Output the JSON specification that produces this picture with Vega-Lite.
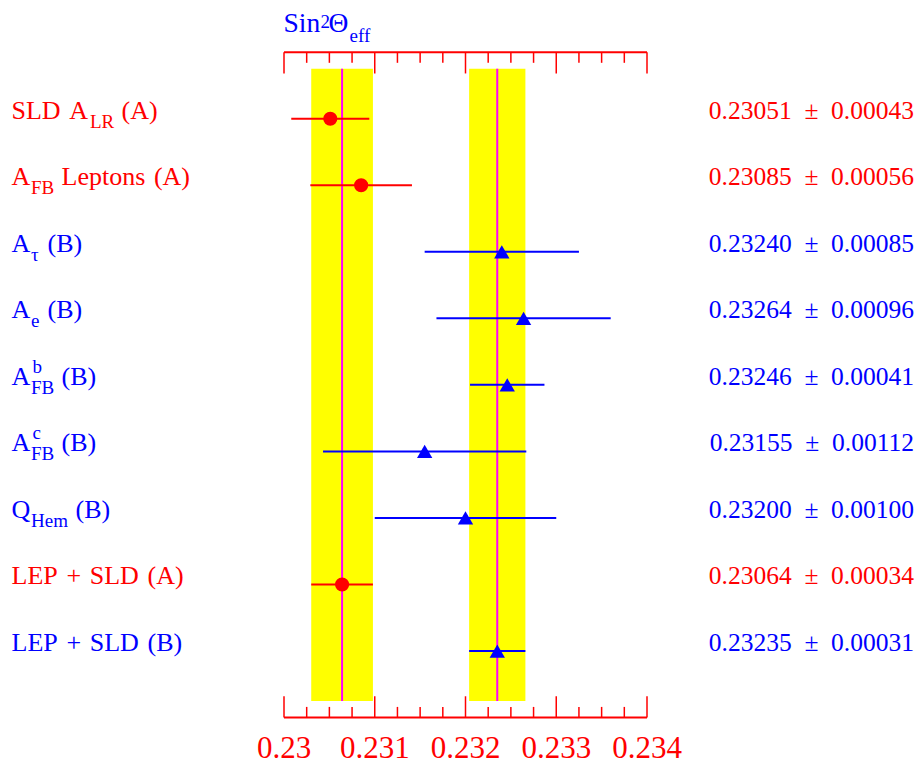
{
  "$schema": "https://vega.github.io/schema/vega-lite/v6.json",
  "width": 363,
  "height": 764,
  "autosize": {"type": "none"},
  "padding": {"left": 284, "right": 271, "top": 0, "bottom": 0},
  "background": "white",
  "config": {"view": {"stroke": null}, "axis": {"disable": true}, "mark": {"font": "Liberation Serif"}, "text": {"font": "Liberation Serif"}},
  "datasets": {
    "meas": [
      {"row": 1, "grp": "A", "pre": "SLD\u2004A", "sub": "LR", "sup": "", "post": "(A)", "value": 0.23051, "lo": 0.23008, "hi": 0.23094, "result": "0.23051\u2002±\u20020.00043", "combined": false},
      {"row": 2, "grp": "A", "pre": "A", "sub": "FB", "sup": "", "post": "Leptons\u2004(A)", "value": 0.23085, "lo": 0.23029, "hi": 0.23141, "result": "0.23085\u2002±\u20020.00056", "combined": false},
      {"row": 3, "grp": "B", "pre": "A", "sub": "τ", "sup": "", "post": "(B)", "value": 0.2324, "lo": 0.23155, "hi": 0.23325, "result": "0.23240\u2002±\u20020.00085", "combined": false},
      {"row": 4, "grp": "B", "pre": "A", "sub": "e", "sup": "", "post": "(B)", "value": 0.23264, "lo": 0.23168, "hi": 0.2336, "result": "0.23264\u2002±\u20020.00096", "combined": false},
      {"row": 5, "grp": "B", "pre": "A", "sub": "FB", "sup": "b", "post": "(B)", "value": 0.23246, "lo": 0.23205, "hi": 0.23287, "result": "0.23246\u2002±\u20020.00041", "combined": false},
      {"row": 6, "grp": "B", "pre": "A", "sub": "FB", "sup": "c", "post": "(B)", "value": 0.23155, "lo": 0.23043, "hi": 0.23267, "result": "0.23155\u2002±\u20020.00112", "combined": false},
      {"row": 7, "grp": "B", "pre": "Q", "sub": "Hem", "sup": "", "post": "(B)", "value": 0.232, "lo": 0.231, "hi": 0.233, "result": "0.23200\u2002±\u20020.00100", "combined": false},
      {"row": 8, "grp": "A", "pre": "LEP\u2004+\u2004SLD\u2004(A)", "sub": "", "sup": "", "post": "", "value": 0.23064, "lo": 0.2303, "hi": 0.23098, "result": "0.23064\u2002±\u20020.00034", "combined": true},
      {"row": 9, "grp": "B", "pre": "LEP\u2004+\u2004SLD\u2004(B)", "sub": "", "sup": "", "post": "", "value": 0.23235, "lo": 0.23204, "hi": 0.23266, "result": "0.23235\u2002±\u20020.00031", "combined": true}
    ],
    "ticks": [
      {"v": 0.23, "major": true, "label": "0.23"},
      {"v": 0.23025, "major": false, "label": ""},
      {"v": 0.2305, "major": false, "label": ""},
      {"v": 0.23075, "major": false, "label": ""},
      {"v": 0.231, "major": true, "label": "0.231"},
      {"v": 0.23125, "major": false, "label": ""},
      {"v": 0.2315, "major": false, "label": ""},
      {"v": 0.23175, "major": false, "label": ""},
      {"v": 0.232, "major": true, "label": "0.232"},
      {"v": 0.23225, "major": false, "label": ""},
      {"v": 0.2325, "major": false, "label": ""},
      {"v": 0.23275, "major": false, "label": ""},
      {"v": 0.233, "major": true, "label": "0.233"},
      {"v": 0.23325, "major": false, "label": ""},
      {"v": 0.2335, "major": false, "label": ""},
      {"v": 0.23375, "major": false, "label": ""},
      {"v": 0.234, "major": true, "label": "0.234"}
    ]
  },
  "layer": [
    {
      "data": {"name": "meas"},
      "transform": [{"filter": "datum.combined"}],
      "mark": {"type": "rect", "color": "#ffff00"},
      "encoding": {
        "x": {"field": "lo", "type": "quantitative", "scale": {"domain": [0.23, 0.234], "nice": false, "zero": false}, "axis": null},
        "x2": {"field": "hi"},
        "y": {"datum": 0.25, "type": "quantitative", "scale": {"domain": [-0.784, 10.698], "reverse": true, "nice": false, "zero": false}, "axis": null},
        "y2": {"datum": 9.75}
      }
    },
    {
      "data": {"name": "meas"},
      "transform": [{"filter": "datum.combined"}],
      "mark": {"type": "rule", "color": "#ff00ff", "strokeWidth": 2},
      "encoding": {
        "x": {"field": "value", "type": "quantitative", "axis": null},
        "y": {"datum": 0.25, "type": "quantitative", "axis": null},
        "y2": {"datum": 9.75}
      }
    },
    {
      "data": {"name": "meas"},
      "mark": {"type": "rule", "strokeWidth": 2},
      "encoding": {
        "x": {"field": "lo", "type": "quantitative", "axis": null},
        "x2": {"field": "hi"},
        "y": {"field": "row", "type": "quantitative", "axis": null},
        "color": {"field": "grp", "type": "nominal", "scale": {"domain": ["A", "B"], "range": ["#ff0000", "#0000ff"]}, "legend": null}
      }
    },
    {
      "data": {"name": "meas"},
      "transform": [{"filter": "datum.grp == 'A'"}],
      "mark": {"type": "point", "shape": "circle", "filled": true, "size": 200, "opacity": 1, "color": "#ff0000"},
      "encoding": {
        "x": {"field": "value", "type": "quantitative", "axis": null},
        "y": {"field": "row", "type": "quantitative", "axis": null}
      }
    },
    {
      "data": {"name": "meas"},
      "transform": [{"filter": "datum.grp == 'B'"}],
      "mark": {"type": "point", "shape": "triangle-up", "filled": true, "size": 235, "opacity": 1, "color": "#0000ff"},
      "encoding": {
        "x": {"field": "value", "type": "quantitative", "axis": null},
        "y": {"field": "row", "type": "quantitative", "axis": null}
      }
    },
    {
      "data": {"values": [{}]},
      "mark": {"type": "rule", "color": "#ff0000", "strokeWidth": 2},
      "encoding": {
        "x": {"datum": 0.23, "type": "quantitative", "axis": null},
        "x2": {"datum": 0.234},
        "y": {"datum": 0, "type": "quantitative", "axis": null}
      }
    },
    {
      "data": {"values": [{}]},
      "mark": {"type": "rule", "color": "#ff0000", "strokeWidth": 2},
      "encoding": {
        "x": {"datum": 0.23, "type": "quantitative", "axis": null},
        "x2": {"datum": 0.234},
        "y": {"datum": 10, "type": "quantitative", "axis": null}
      }
    },
    {
      "data": {"name": "ticks"},
      "transform": [{"filter": "datum.major"}],
      "mark": {"type": "rule", "color": "#ff0000", "strokeWidth": 1.5},
      "encoding": {
        "x": {"field": "v", "type": "quantitative", "axis": null},
        "y": {"datum": 0, "type": "quantitative", "axis": null},
        "y2": {"datum": 0.32}
      }
    },
    {
      "data": {"name": "ticks"},
      "transform": [{"filter": "!datum.major"}],
      "mark": {"type": "rule", "color": "#ff0000", "strokeWidth": 1.5},
      "encoding": {
        "x": {"field": "v", "type": "quantitative", "axis": null},
        "y": {"datum": 0, "type": "quantitative", "axis": null},
        "y2": {"datum": 0.16}
      }
    },
    {
      "data": {"name": "ticks"},
      "transform": [{"filter": "datum.major"}],
      "mark": {"type": "rule", "color": "#ff0000", "strokeWidth": 1.5},
      "encoding": {
        "x": {"field": "v", "type": "quantitative", "axis": null},
        "y": {"datum": 10, "type": "quantitative", "axis": null},
        "y2": {"datum": 9.68}
      }
    },
    {
      "data": {"name": "ticks"},
      "transform": [{"filter": "!datum.major"}],
      "mark": {"type": "rule", "color": "#ff0000", "strokeWidth": 1.5},
      "encoding": {
        "x": {"field": "v", "type": "quantitative", "axis": null},
        "y": {"datum": 10, "type": "quantitative", "axis": null},
        "y2": {"datum": 9.84}
      }
    },
    {
      "data": {"name": "ticks"},
      "transform": [{"filter": "datum.major"}],
      "mark": {"type": "text", "font": "Liberation Serif", "color": "#ff0000", "fontSize": 31, "align": "center", "baseline": "alphabetic"},
      "encoding": {
        "x": {"field": "v", "type": "quantitative", "axis": null},
        "y": {"datum": 10.608, "type": "quantitative", "axis": null},
        "text": {"field": "label"}
      }
    },
    {
      "data": {"name": "meas"},
      "mark": {"type": "text", "font": "Liberation Serif", "fontSize": 26, "align": "left", "baseline": "alphabetic", "dx": -272.5},
      "encoding": {
        "x": {"datum": 0.23, "type": "quantitative", "axis": null},
        "y": {"field": "row", "type": "quantitative", "axis": null},
        "text": {"field": "pre"},
        "color": {"field": "grp", "type": "nominal", "legend": null}
      }
    },
    {
      "data": {"name": "meas"},
      "transform": [{"filter": "datum.row == 1"}],
      "mark": {"type": "text", "font": "Liberation Serif", "fontSize": 19, "align": "left", "baseline": "alphabetic", "dx": -194, "dy": 9},
      "encoding": {
        "x": {"datum": 0.23, "type": "quantitative", "axis": null},
        "y": {"field": "row", "type": "quantitative", "axis": null},
        "text": {"field": "sub"},
        "color": {"field": "grp", "type": "nominal", "legend": null}
      }
    },
    {
      "data": {"name": "meas"},
      "transform": [{"filter": "datum.row >= 2 && datum.row <= 7"}],
      "mark": {"type": "text", "font": "Liberation Serif", "fontSize": 19, "align": "left", "baseline": "alphabetic", "dx": -253, "dy": 9},
      "encoding": {
        "x": {"datum": 0.23, "type": "quantitative", "axis": null},
        "y": {"field": "row", "type": "quantitative", "axis": null},
        "text": {"field": "sub"},
        "color": {"field": "grp", "type": "nominal", "legend": null}
      }
    },
    {
      "data": {"name": "meas"},
      "transform": [{"filter": "datum.sup != ''"}],
      "mark": {"type": "text", "font": "Liberation Serif", "fontSize": 19, "align": "left", "baseline": "alphabetic", "dx": -251.5, "dy": -12},
      "encoding": {
        "x": {"datum": 0.23, "type": "quantitative", "axis": null},
        "y": {"field": "row", "type": "quantitative", "axis": null},
        "text": {"field": "sup"},
        "color": {"field": "grp", "type": "nominal", "legend": null}
      }
    },
    {
      "data": {"name": "meas"},
      "transform": [{"filter": "datum.row == 1"}],
      "mark": {"type": "text", "font": "Liberation Serif", "fontSize": 26, "align": "left", "baseline": "alphabetic", "dx": -162.5},
      "encoding": {
        "x": {"datum": 0.23, "type": "quantitative", "axis": null},
        "y": {"field": "row", "type": "quantitative", "axis": null},
        "text": {"field": "post"},
        "color": {"field": "grp", "type": "nominal", "legend": null}
      }
    },
    {
      "data": {"name": "meas"},
      "transform": [{"filter": "datum.row == 2 || datum.row == 5 || datum.row == 6"}],
      "mark": {"type": "text", "font": "Liberation Serif", "fontSize": 26, "align": "left", "baseline": "alphabetic", "dx": -222.5},
      "encoding": {
        "x": {"datum": 0.23, "type": "quantitative", "axis": null},
        "y": {"field": "row", "type": "quantitative", "axis": null},
        "text": {"field": "post"},
        "color": {"field": "grp", "type": "nominal", "legend": null}
      }
    },
    {
      "data": {"name": "meas"},
      "transform": [{"filter": "datum.row == 3 || datum.row == 4"}],
      "mark": {"type": "text", "font": "Liberation Serif", "fontSize": 26, "align": "left", "baseline": "alphabetic", "dx": -236.5},
      "encoding": {
        "x": {"datum": 0.23, "type": "quantitative", "axis": null},
        "y": {"field": "row", "type": "quantitative", "axis": null},
        "text": {"field": "post"},
        "color": {"field": "grp", "type": "nominal", "legend": null}
      }
    },
    {
      "data": {"name": "meas"},
      "transform": [{"filter": "datum.row == 7"}],
      "mark": {"type": "text", "font": "Liberation Serif", "fontSize": 26, "align": "left", "baseline": "alphabetic", "dx": -208.5},
      "encoding": {
        "x": {"datum": 0.23, "type": "quantitative", "axis": null},
        "y": {"field": "row", "type": "quantitative", "axis": null},
        "text": {"field": "post"},
        "color": {"field": "grp", "type": "nominal", "legend": null}
      }
    },
    {
      "data": {"name": "meas"},
      "mark": {"type": "text", "font": "Liberation Serif", "fontSize": 25.5, "align": "right", "baseline": "alphabetic", "dx": 267},
      "encoding": {
        "x": {"datum": 0.234, "type": "quantitative", "axis": null},
        "y": {"field": "row", "type": "quantitative", "axis": null},
        "text": {"field": "result"},
        "color": {"field": "grp", "type": "nominal", "legend": null}
      }
    },
    {
      "data": {"values": [{}]},
      "mark": {"type": "text", "font": "Liberation Serif", "text": "Sin", "fontSize": 27.5, "color": "#0000ff", "align": "left", "baseline": "alphabetic", "dx": -0.5},
      "encoding": {
        "x": {"datum": 0.23, "type": "quantitative", "axis": null},
        "y": {"datum": -0.3, "type": "quantitative", "axis": null}
      }
    },
    {
      "data": {"values": [{}]},
      "mark": {"type": "text", "font": "Liberation Serif", "text": "2", "fontSize": 19, "color": "#0000ff", "align": "left", "baseline": "alphabetic", "dx": 36.5, "dy": -4},
      "encoding": {
        "x": {"datum": 0.23, "type": "quantitative", "axis": null},
        "y": {"datum": -0.3, "type": "quantitative", "axis": null}
      }
    },
    {
      "data": {"values": [{}]},
      "mark": {"type": "text", "font": "Liberation Serif", "text": "Θ", "fontSize": 27.5, "color": "#0000ff", "align": "left", "baseline": "alphabetic", "dx": 44.5},
      "encoding": {
        "x": {"datum": 0.23, "type": "quantitative", "axis": null},
        "y": {"datum": -0.3, "type": "quantitative", "axis": null}
      }
    },
    {
      "data": {"values": [{}]},
      "mark": {"type": "text", "font": "Liberation Serif", "text": "eff", "fontSize": 19, "color": "#0000ff", "align": "left", "baseline": "alphabetic", "dx": 65.5, "dy": 9.5},
      "encoding": {
        "x": {"datum": 0.23, "type": "quantitative", "axis": null},
        "y": {"datum": -0.3, "type": "quantitative", "axis": null}
      }
    }
  ]
}
